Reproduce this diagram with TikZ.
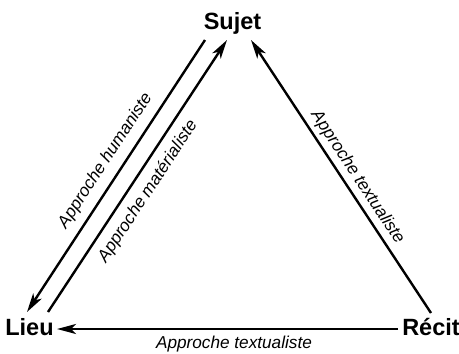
\documentclass[tikz,border=0pt]{standalone}
\usepackage{fontspec}
\setmainfont{Liberation Sans}
\usetikzlibrary{arrows.meta}
\begin{document}
\begin{tikzpicture}[x=1pt,y=-1pt,
  vert/.style={font=\fontsize{23.5}{26}\selectfont\bfseries, inner sep=0pt, anchor=base},
  lab/.style={font=\fontsize{17.2}{19}\selectfont\itshape, inner sep=0pt},
  conn/.style={line width=2.4pt, -{Stealth[length=19pt,width=10pt,inset=5pt]}}]
\useasboundingbox (0,0) rectangle (459,354);
\node[vert] (sujet) at (232.5,29) {Sujet};
\node[vert] (lieu) at (29.5,335) {Lieu};
\node[vert] (recit) at (431,335) {Récit};
% Sujet -> Lieu
\draw[conn] ([shift={(-27.5,11)}]sujet.base) -- node[lab, sloped, pos=0.478, above=8pt] {Approche humaniste} ([shift={(-2.5,-23)}]lieu.base);
% Lieu -> Sujet
\draw[conn] ([shift={(18.5,-23)}]lieu.base) -- node[lab, sloped, pos=0.478, below=8pt] {Approche matérialiste} ([shift={(-5.5,11)}]sujet.base);
% Recit -> Sujet
\draw[conn] ([shift={(0,-22)}]recit.base) -- node[lab, sloped, pos=0.47, above=4pt] {Approche textualiste} ([shift={(18.5,11)}]sujet.base);
% Recit -> Lieu
\draw[conn] ([shift={(-33,-6)}]recit.base) -- node[lab, pos=0.481, below=6pt] {Approche textualiste} ([shift={(27.5,-6)}]lieu.base);
\end{tikzpicture}
\end{document}
